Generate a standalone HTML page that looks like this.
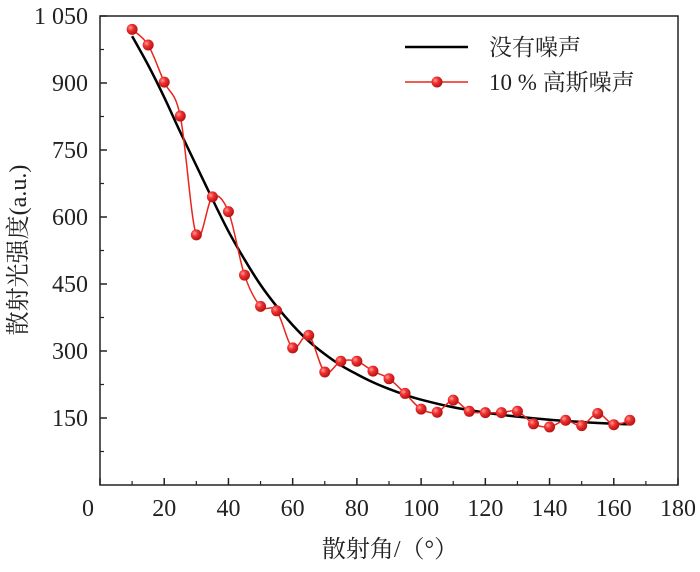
<!DOCTYPE html>
<html><head><meta charset="utf-8"><style>
body{margin:0;background:#fff;}
svg text{font-family:"Liberation Serif","Noto Serif CJK SC",serif;fill:#222;}
</style></head><body>
<svg id="chart" width="700" height="567" viewBox="0 0 700 567" xmlns="http://www.w3.org/2000/svg">
<defs><radialGradient id="ball" cx="0.35" cy="0.35" r="0.7"><stop offset="0" stop-color="#ff9a9a"/><stop offset="0.4" stop-color="#f03030"/><stop offset="1" stop-color="#b01010"/></radialGradient></defs>
<g id="axes"></g><g id="series"></g>
<g>
<line x1="405" y1="47" x2="468" y2="47" stroke="#000" stroke-width="2.5"/>
<text x="489" y="55" font-size="23">没有噪声</text>
<line x1="405" y1="82" x2="468" y2="82" stroke="#e8261c" stroke-width="1.5"/>
<circle cx="437" cy="82" r="5.5" fill="url(#ball)"/>
<text x="489" y="90" font-size="23">10 % 高斯噪声</text>
</g>
<text x="390" y="557" font-size="24" text-anchor="middle">散射角/（°）</text>
<text transform="translate(26,250) rotate(-90)" font-size="24" text-anchor="middle">散射光强度(a.u.)</text>
</svg>
<script>
const xTicks=[0,20,40,60,80,100,120,140,160,180];
const yTicks=[150,300,450,600,750,900,1050];
const yTickLabels=["150","300","450","600","750","900","1 050"];
const noiseX=[10,15,20,25,30,35,40,45,50,55,60,65,70,75,80,85,90,95,100,105,110,115,120,125,130,135,140,145,150,155,160,165];
const noiseY=[1020,985,902,826,560,645,612,470,400,390,307,335,253,277,277,255,238,205,170,163,190,165,162,162,165,137,130,145,133,160,135,145];
const cleanX=[10,15,20,25,30,35,40,45,50,55,60,65,70,75,80,85,90,95,100,110,120,130,140,150,160,165];
const cleanY=[1005,940,868,790,715,640,568,505,448,400,358,322,293,268,248,230,215,202,191,174,162,153,146,141,137,136];
const L=100,R=678,T=16,B=485;
const sx=v=>L+(v-0)/180*(R-L);
const sy=v=>B-(v-0)/1050*(B-T);
const NS="http://www.w3.org/2000/svg";
function mk(t,a,p){const e=document.createElementNS(NS,t);for(const k in a)e.setAttribute(k,a[k]);p.appendChild(e);return e;}
const ax=document.getElementById('axes'),se=document.getElementById('series');
const frame=mk('rect',{x:L,y:T,width:R-L,height:B-T,fill:'none',stroke:'#222','stroke-width':1.5},ax);


for(let i=0;i<xTicks.length;i++){const x=sx(xTicks[i]);
 const t=mk('line',{x1:x,y1:B,x2:x,y2:B-7,stroke:'#222','stroke-width':1.5},ax);
 
 
 if(i<xTicks.length-1){const m=sx(xTicks[i]+10);const mt=mk('line',{x1:m,y1:B,x2:m,y2:B-4,stroke:'#222','stroke-width':1.2},ax);
 
 }
 const l=mk('text',{x:(xTicks[i]===0?88:x),y:B+31,'font-size':24,'text-anchor':'middle'},ax);l.textContent=xTicks[i];
 
 }
for(let i=0;i<yTicks.length;i++){const y=sy(yTicks[i]);
 const t=mk('line',{x1:L,y1:y,x2:L+7,y2:y,stroke:'#222','stroke-width':1.5},ax);
 
 
 const m=sy(yTicks[i]-75);const mt=mk('line',{x1:L,y1:m,x2:L+4,y2:m,stroke:'#222','stroke-width':1.2},ax);
 
 
 const l=mk('text',{x:L-12,y:y+8,'font-size':24,'text-anchor':'end'},ax);l.textContent=yTickLabels[i];
 
 }
function spline(xs,ys){const p=xs.map((v,i)=>[sx(v),sy(ys[i])]);let d='M'+p[0][0]+','+p[0][1];
 for(let i=0;i<p.length-1;i++){const p0=p[i-1]||p[i],p1=p[i],p2=p[i+1],p3=p[i+2]||p2;
 d+=' C'+(p1[0]+(p2[0]-p0[0])/6)+','+(p1[1]+(p2[1]-p0[1])/6)+' '+(p2[0]-(p3[0]-p1[0])/6)+','+(p2[1]-(p3[1]-p1[1])/6)+' '+p2[0]+','+p2[1];}return d;}
const c=mk('path',{d:spline(cleanX,cleanY),fill:'none',stroke:'#000','stroke-width':2.5},se);


const n=mk('path',{d:spline(noiseX,noiseY),fill:'none',stroke:'#e8261c','stroke-width':1.5},se);


for(let i=0;i<noiseX.length;i++){const p=mk('circle',{cx:sx(noiseX[i]),cy:sy(noiseY[i]),r:5.5,fill:'url(#ball)'},se);
 
 }
</script>
</body></html>
